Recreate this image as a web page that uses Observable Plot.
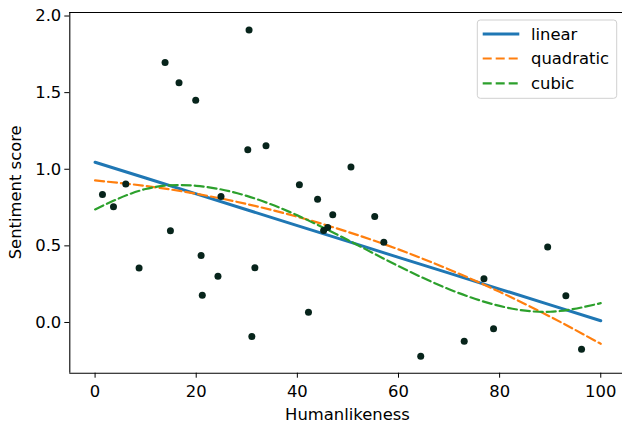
<!DOCTYPE html>
<html>
<head>
<meta charset="utf-8">
<script src="https://cdn.jsdelivr.net/npm/d3@7"></script>
<script src="https://cdn.jsdelivr.net/npm/@observablehq/plot@0.6"></script>
<style>
  html, body { margin: 0; padding: 0; background: #fff; }
  #chart svg { display: block; }
</style>
</head>
<body>
<div id="chart"></div>
<script>
// Scatter data
const humanlikeness = [1.46, 3.64, 6.07, 8.7, 13.84, 14.9, 16.6, 19.9, 20.97, 21.2, 24.3, 24.9, 30.2, 30.45, 31.0, 31.6, 33.8, 40.4, 42.2, 44.0, 45.2, 46.0, 47.0, 50.6, 55.3, 57.1, 64.4, 73.0, 76.9, 78.8, 89.5, 93.1, 96.2];
const sentiment = [0.836, 0.755, 0.903, 0.355, 1.697, 0.598, 1.565, 1.451, 0.437, 0.178, 0.302, 0.822, 1.127, 1.908, -0.091, 0.357, 1.153, 0.899, 0.067, 0.805, 0.60, 0.62, 0.703, 1.014, 0.692, 0.524, -0.22, -0.122, 0.285, -0.041, 0.492, 0.174, -0.174];

// Fitted curves
const fitX = [0, 10, 20, 30, 40, 50, 60, 70, 80, 90, 100];
const linearY = [1.046, 0.943, 0.839, 0.736, 0.632, 0.529, 0.425, 0.322, 0.218, 0.115, 0.011];
const quadraticY = [0.927, 0.891, 0.840, 0.773, 0.690, 0.591, 0.477, 0.346, 0.200, 0.038, -0.139];
const cubicY = [0.738, 0.871, 0.892, 0.826, 0.699, 0.538, 0.368, 0.217, 0.108, 0.070, 0.126];

const seriesNames = ["linear", "quadratic", "cubic"];
const seriesColors = ["#1f77b4", "#ff7f0e", "#2ca02c"];
const xTicks = [0, 20, 40, 60, 80, 100];
const yTicks = [0.0, 0.5, 1.0, 1.5, 2.0];

const points = humanlikeness.map((x, i) => ({x, y: sentiment[i]}));
const fits = fitX.map((x, i) => ({x, linear: linearY[i], quadratic: quadraticY[i], cubic: cubicY[i]}));

const W = 622, H = 426;
const mL = 69.3, mT = 12, mB = 53.3, mR = 0;
const xDom = [-5, 104.3];
const yDom = [-0.331, 2.023];
const font = "'DejaVu Sans', sans-serif";
const FS = 16.4;

const plot = Plot.plot({
  width: W,
  height: H,
  marginLeft: mL,
  marginRight: mR,
  marginTop: mT,
  marginBottom: mB,
  style: {fontFamily: font, fontSize: FS + "px", color: "#000", background: "#fff"},
  x: {domain: xDom},
  y: {domain: yDom},
  marks: [
    Plot.axisX({ticks: xTicks, tickSize: 5, tickPadding: 7, tickFormat: d => String(d), label: null, fontSize: FS, stroke: "#000"}),
    Plot.axisY({ticks: yTicks, tickSize: 5, tickPadding: 3.5, tickFormat: d3.format(".1f"), label: null, fontSize: FS, stroke: "#000"}),
    Plot.line(fits, {x: "x", y: "linear", stroke: seriesColors[0], strokeWidth: 3}),
    Plot.line(fits, {x: "x", y: "quadratic", stroke: seriesColors[1], strokeWidth: 2.2, strokeDasharray: "9,4", curve: "natural"}),
    Plot.line(fits, {x: "x", y: "cubic", stroke: seriesColors[2], strokeWidth: 2.2, strokeDasharray: "9,4", curve: "natural"}),
    Plot.dot(points, {x: "x", y: "y", r: 3.5, fill: "#07241b", stroke: "none"}),
    Plot.ruleX([xDom[0]], {stroke: "#000", strokeWidth: 1.1}),
    Plot.ruleY([yDom[0], yDom[1]], {stroke: "#000", strokeWidth: 1.1})
  ]
});

const svg = d3.select(plot);
// Axis labels
svg.append("text")
  .attr("x", 347.5).attr("y", 420)
  .attr("text-anchor", "middle")
  .attr("font-family", font).attr("font-size", FS).attr("fill", "#000")
  .text("Humanlikeness");
svg.append("text")
  .attr("transform", `translate(21, ${(mT + H - mB) / 2}) rotate(-90)`)
  .attr("text-anchor", "middle")
  .attr("font-family", font).attr("font-size", FS).attr("fill", "#000")
  .text("Sentiment score");

// Legend
const lg = svg.append("g");
lg.append("rect")
  .attr("x", 477.3).attr("y", 20).attr("width", 139.4).attr("height", 78.3)
  .attr("rx", 3).attr("fill", "#fff").attr("fill-opacity", 0.8)
  .attr("stroke", "#d0d0d0").attr("stroke-width", 1);
const rowY = [34, 58.5, 83.3];
seriesNames.forEach((name, i) => {
  lg.append("line")
    .attr("x1", 482.7).attr("x2", 519.3).attr("y1", rowY[i]).attr("y2", rowY[i])
    .attr("stroke", seriesColors[i])
    .attr("stroke-width", i === 0 ? 3 : 2.2)
    .attr("stroke-dasharray", i === 0 ? null : "9,4");
  lg.append("text")
    .attr("x", 531).attr("y", rowY[i]).attr("dy", "0.36em")
    .attr("text-anchor", "start")
    .attr("font-family", font).attr("font-size", FS).attr("fill", "#000")
    .text(name);
});

document.getElementById("chart").appendChild(plot);
</script>
</body>
</html>
